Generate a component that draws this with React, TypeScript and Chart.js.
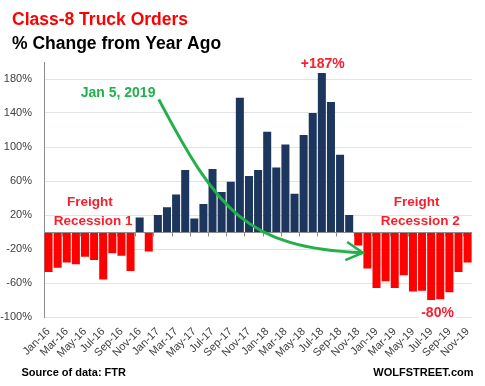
import React, { useEffect, useRef } from "react";
import { Chart, registerables } from "chart.js";

Chart.register(...registerables);

const months = [
  "Jan-16", "Feb-16", "Mar-16", "Apr-16", "May-16", "Jun-16", "Jul-16", "Aug-16", "Sep-16", "Oct-16", "Nov-16", "Dec-16",
  "Jan-17", "Feb-17", "Mar-17", "Apr-17", "May-17", "Jun-17", "Jul-17", "Aug-17", "Sep-17", "Oct-17", "Nov-17", "Dec-17",
  "Jan-18", "Feb-18", "Mar-18", "Apr-18", "May-18", "Jun-18", "Jul-18", "Aug-18", "Sep-18", "Oct-18", "Nov-18", "Dec-18",
  "Jan-19", "Feb-19", "Mar-19", "Apr-19", "May-19", "Jun-19", "Jul-19", "Aug-19", "Sep-19", "Oct-19", "Nov-19",
];

const yoyChange = [
  -47, -42, -36, -38, -29, -33, -56, -25, -28, -46, 17, -23,
  20, 29, 44, 73, 16, 33, 74, 47, 59, 158, 66, 73,
  118, 76, 103, 45, 114, 140, 187, 153, 91, 20, -16, -43,
  -66, -58, -66, -51, -70, -69, -80, -79, -71, -47, -36,
];

const yTicks = [-100, -60, -20, 20, 60, 100, 140, 180];
const Y_MIN = -100;
const Y_MAX = 200;

const NAVY = "#1c365e";
const RED = "#ff0000";
const NOTE_RED = "#f7202c";
const GREEN = "#22b04a";
const FONT = "'Liberation Sans', Arial, sans-serif";

const overlayPlugin = {
  id: "overlay",
  beforeDatasetsDraw(chart: any) {
    const { ctx, scales } = chart;
    const x = scales.x;
    const y = scales.y;
    const y0 = Math.round(y.getPixelForValue(0)) + 0.5;
    ctx.save();
    ctx.strokeStyle = "#8c8c8c";
    ctx.lineWidth = 1;
    for (let i = 0; i <= months.length; i += 2) {
      const px = Math.round(x.getPixelForValue(i - 0.5)) + 0.5;
      ctx.beginPath();
      ctx.moveTo(px, y0);
      ctx.lineTo(px, y0 + 4);
      ctx.stroke();
    }
    ctx.restore();
  },
  afterDatasetsDraw(chart: any) {
    const { ctx, scales, chartArea } = chart;
    const x = scales.x;
    const y = scales.y;
    const X = (v: number) => x.getPixelForValue(v);
    const Y = (v: number) => y.getPixelForValue(v);

    ctx.save();
    // zero line
    const y0 = Math.round(Y(0)) + 0.5;
    ctx.strokeStyle = "#8c8c8c";
    ctx.lineWidth = 1;
    ctx.beginPath();
    ctx.moveTo(chartArea.left, y0);
    ctx.lineTo(chartArea.right, y0);
    ctx.stroke();

    // arrow (in data coordinates: category index, % value)
    const p0 = [X(12.1), Y(156)];
    const p1 = [X(18.5), Y(26)];
    const p2 = [X(21.7), Y(-19)];
    const p3 = [X(34.5), Y(-24.4)];
    ctx.strokeStyle = GREEN;
    ctx.lineWidth = 3;
    ctx.lineCap = "butt";
    ctx.beginPath();
    ctx.moveTo(p0[0], p0[1]);
    ctx.bezierCurveTo(p1[0], p1[1], p2[0], p2[1], p3[0], p3[1]);
    ctx.stroke();
    const ang = Math.atan2(p3[1] - p2[1], p3[0] - p2[0]) + 0.06;
    const len = 19;
    const spread = 0.5;
    ctx.lineWidth = 2.5;
    ctx.beginPath();
    ctx.moveTo(p3[0] - len * Math.cos(ang - spread), p3[1] - len * Math.sin(ang - spread));
    ctx.lineTo(p3[0], p3[1]);
    ctx.lineTo(p3[0] - len * Math.cos(ang + spread), p3[1] - len * Math.sin(ang + spread));
    ctx.stroke();

    ctx.textAlign = "center";
    ctx.textBaseline = "alphabetic";

    // Jan 5, 2019 note
    ctx.fillStyle = GREEN;
    ctx.font = `bold 14px ${FONT}`;
    ctx.fillText("Jan 5, 2019", X(7.63), Y(158.8));

    // Freight recession labels
    ctx.fillStyle = NOTE_RED;
    ctx.font = `bold 13.5px ${FONT}`;
    ctx.fillText("Freight", X(4.53), Y(30.1));
    ctx.fillText("Recession 1", X(4.9), Y(8.2));
    ctx.fillText("Freight", X(40.4), Y(31));
    ctx.fillText("Recession 2", X(40.8), Y(8.6));

    // peak and trough labels
    let maxI = 0;
    let minI = 0;
    yoyChange.forEach((v, i) => {
      if (v > yoyChange[maxI]) maxI = i;
      if (v < yoyChange[minI]) minI = i;
    });
    ctx.font = `bold 14px ${FONT}`;
    ctx.fillText(`+${yoyChange[maxI]}%`, X(maxI + 0.1), Y(yoyChange[maxI]) - 4.7);
    const tx = X(minI + 0.7);
    const ty = Y(yoyChange[minI]) + 16.5;
    const tw = ctx.measureText(`${yoyChange[minI]}%`).width;
    ctx.fillStyle = "#ffffff";
    ctx.fillRect(tx - tw / 2 - 2, ty - 12, tw + 4, 15);
    ctx.fillStyle = NOTE_RED;
    ctx.fillText(`${yoyChange[minI]}%`, tx, ty);
    ctx.restore();
  },
  afterDraw(chart: any) {
    const { ctx } = chart;
    ctx.save();
    ctx.textBaseline = "alphabetic";
    ctx.textAlign = "left";
    ctx.font = `bold 17.5px ${FONT}`;
    ctx.fillStyle = RED;
    ctx.fillText("Class-8 Truck Orders", 12, 25);
    ctx.fillStyle = "#000000";
    ctx.fillText("% Change from Year Ago", 12, 49.3);
    ctx.font = `bold 11px ${FONT}`;
    ctx.fillText("Source of data: FTR", 21.5, 376);
    ctx.textAlign = "right";
    ctx.fillText("WOLFSTREET.com", 473.5, 376);
    ctx.restore();
  },
};

export default function App() {
  const canvasRef = useRef<HTMLCanvasElement | null>(null);

  useEffect(() => {
    if (!canvasRef.current) return;
    const chart = new Chart(canvasRef.current, {
      type: "bar",
      data: {
        labels: months,
        datasets: [
          {
            data: yoyChange,
            backgroundColor: yoyChange.map((v) => (v >= 0 ? NAVY : RED)),
            borderWidth: 0,
            categoryPercentage: 1,
            barPercentage: 0.88,
          },
        ],
      },
      options: {
        animation: false,
        responsive: false,
        devicePixelRatio: 1,
        layout: { padding: { top: 62, left: 0, right: 5, bottom: 14 } },
        plugins: {
          legend: { display: false },
          title: { display: false },
          tooltip: { enabled: false },
        },
        scales: {
          x: {
            grid: { display: false, drawTicks: false },
            border: { display: false },
            ticks: {
              autoSkip: false,
              minRotation: 45,
              maxRotation: 45,
              padding: 8,
              color: "#404040",
              font: { family: FONT, size: 11 },
              callback: (_v: any, i: number) => (i % 2 === 0 ? months[i] : ""),
            },
            afterFit: (s: any) => {
              s.height = 55;
            },
          },
          y: {
            min: Y_MIN,
            max: Y_MAX,
            grid: { color: "#dfe3ea", drawTicks: false, lineWidth: 1 },
            border: { display: true, color: "#8c8c8c" },
            ticks: {
              padding: 12,
              color: "#404040",
              font: { family: FONT, size: 11 },
              callback: (v: any) => `${v}%`,
            },
            afterBuildTicks: (s: any) => {
              s.ticks = yTicks.map((v) => ({ value: v }));
            },
            afterFit: (s: any) => {
              s.width = 44;
            },
          },
        },
      },
      plugins: [overlayPlugin],
    });
    return () => chart.destroy();
  }, []);

  return (
    <div style={{ position: "absolute", left: 0, top: 0, width: 485, height: 386, background: "#fff" }}>
      <canvas ref={canvasRef} width={485} height={386} style={{ display: "block" }} />
    </div>
  );
}
